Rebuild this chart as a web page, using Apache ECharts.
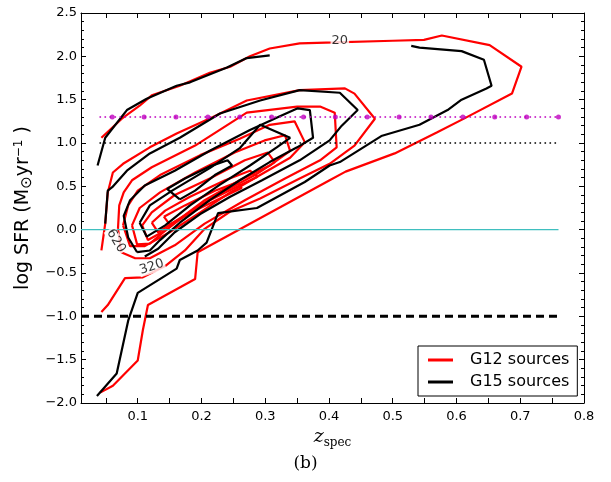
<!DOCTYPE html>
<html><head><meta charset="utf-8">
<script src="https://cdn.jsdelivr.net/npm/echarts@6/dist/echarts.min.js"></script>
<style>html,body{margin:0;padding:0;background:#fff}#c{width:611px;height:482px}</style>
</head><body><div id="c"></div>
<script>
// ---- tick values ----
const xTickLabels = [0.1, 0.2, 0.3, 0.4, 0.5, 0.6, 0.7, 0.8];
const xTickMarks = [0.05, 0.1, 0.15, 0.2, 0.25, 0.3, 0.35, 0.4, 0.45, 0.5, 0.55, 0.6, 0.65, 0.7, 0.75, 0.8];

// ---- reference lines ----
const magentaLine = [[0.04, 1.3], [0.76, 1.3]];
const magentaDotsX = [0.06, 0.11, 0.16, 0.21, 0.26, 0.31, 0.36, 0.41, 0.46, 0.51, 0.56, 0.61, 0.66, 0.71, 0.76];
const blackDotted = [[0.04, 1.0], [0.76, 1.0]];
const cyanLine = [[0.011, 0.0], [0.76, 0.0]];
const dashedLine = [[0.011, -1.0], [0.76, -1.0]];

// ---- G12 contours (red) ----
const r20 = [[0.043,1.06],[0.075,1.28],[0.103,1.43],[0.122,1.55],[0.166,1.66],[0.213,1.81],[0.245,1.88],[0.276,2.00],[0.307,2.09],[0.354,2.15],[0.409,2.16],[0.500,2.18],[0.549,2.19],[0.577,2.24],[0.652,2.13],[0.702,1.88],[0.687,1.57],[0.614,1.29],[0.569,1.12],[0.503,0.88],[0.426,0.67],[0.401,0.57],[0.194,-0.26],[0.190,-0.57],[0.116,-0.87],[0.108,-1.16],[0.100,-1.51],[0.061,-1.80],[0.041,-1.88]];
const r320 = [[0.043,-0.24],[0.049,0.07],[0.053,0.43],[0.061,0.66],[0.077,0.76],[0.119,0.95],[0.161,1.11],[0.218,1.30],[0.271,1.49],[0.354,1.61],[0.425,1.63],[0.440,1.57],[0.472,1.28],[0.440,0.97],[0.425,0.89],[0.401,0.76],[0.354,0.59],[0.292,0.36],[0.245,0.21],[0.205,0.01],[0.174,-0.24],[0.143,-0.42],[0.108,-0.55],[0.080,-0.56],[0.053,-0.87],[0.043,-0.95]];
const r620 = [[0.069,0.01],[0.071,0.28],[0.078,0.43],[0.091,0.57],[0.122,0.72],[0.190,0.97],[0.271,1.35],[0.350,1.42],[0.386,1.42],[0.409,1.35],[0.412,0.95],[0.386,0.80],[0.331,0.59],[0.268,0.34],[0.205,0.07],[0.158,-0.18],[0.119,-0.33],[0.096,-0.33],[0.074,-0.26],[0.069,0.01]];
const r920 = [[0.077,0.05],[0.085,0.28],[0.100,0.45],[0.135,0.63],[0.198,0.86],[0.260,1.05],[0.307,1.21],[0.346,1.25],[0.362,1.01],[0.339,0.83],[0.292,0.63],[0.245,0.43],[0.198,0.20],[0.150,-0.03],[0.111,-0.19],[0.088,-0.19],[0.077,0.05]];
const r1220 = [[0.091,0.05],[0.103,0.25],[0.135,0.43],[0.190,0.66],[0.252,0.89],[0.299,1.03],[0.331,1.09],[0.339,0.91],[0.307,0.74],[0.260,0.57],[0.205,0.34],[0.158,0.08],[0.119,-0.16],[0.099,-0.17],[0.091,0.05]];
const r1520 = [[0.107,0.05],[0.122,0.20],[0.158,0.40],[0.213,0.59],[0.268,0.80],[0.304,0.89],[0.315,0.78],[0.284,0.63],[0.237,0.45],[0.190,0.25],[0.143,-0.01],[0.116,-0.12],[0.107,0.05]];
const r1820 = [[0.122,0.08],[0.143,0.22],[0.182,0.38],[0.237,0.57],[0.276,0.68],[0.288,0.61],[0.257,0.50],[0.213,0.34],[0.166,0.13],[0.132,-0.03],[0.122,0.08]];
const r2120 = [[0.141,0.15],[0.174,0.28],[0.221,0.45],[0.257,0.55],[0.263,0.48],[0.229,0.36],[0.190,0.22],[0.150,0.06],[0.141,0.15]];

// ---- G15 contours (black) ----
const b20a = [[0.037,0.74],[0.049,1.06],[0.083,1.38],[0.114,1.51],[0.161,1.66],[0.182,1.70],[0.240,1.87],[0.271,1.98],[0.307,2.01]];
const b20b = [[0.529,2.12],[0.542,2.10],[0.608,2.06],[0.643,1.96],[0.655,1.66],[0.647,1.63],[0.608,1.50],[0.586,1.38],[0.542,1.21],[0.482,1.08],[0.417,0.78],[0.401,0.74],[0.362,0.55],[0.287,0.25],[0.226,0.19],[0.208,-0.15],[0.194,-0.24],[0.166,-0.35],[0.161,-0.45],[0.100,-0.73],[0.085,-1.05],[0.067,-1.66],[0.036,-1.92]];
const b2 = [[0.049,0.07],[0.053,0.45],[0.060,0.49],[0.083,0.68],[0.119,0.88],[0.166,1.06],[0.229,1.34],[0.292,1.49],[0.354,1.61],[0.417,1.58],[0.445,1.38],[0.420,1.20],[0.401,1.03],[0.354,0.80],[0.295,0.57],[0.245,0.38],[0.198,0.18],[0.158,-0.03],[0.132,-0.22],[0.111,-0.31]];
const b3 = [[0.099,-0.26],[0.085,-0.09],[0.078,0.16],[0.088,0.34],[0.111,0.51],[0.158,0.68],[0.213,0.91],[0.276,1.15],[0.323,1.31],[0.351,1.40],[0.370,1.38],[0.375,1.06],[0.350,0.95],[0.307,0.78],[0.260,0.57],[0.213,0.34],[0.166,0.08],[0.135,-0.12],[0.119,-0.24],[0.099,-0.26]];
const b4 = [[0.103,0.08],[0.119,0.28],[0.154,0.45],[0.213,0.71],[0.260,0.94],[0.292,1.21],[0.339,1.06],[0.318,0.95],[0.276,0.74],[0.229,0.52],[0.182,0.28],[0.143,0.05],[0.114,-0.08],[0.103,0.08]];
const b5 = [[0.166,0.35],[0.146,0.47],[0.174,0.59],[0.213,0.73],[0.241,0.80],[0.248,0.74],[0.221,0.63],[0.190,0.45],[0.166,0.35]];

// ---- contour labels ----
const labelTexts = ['20', '620', '320'];
const labelX = [0.417, 0.066, 0.122];
const labelY = [2.18, -0.13, -0.43];
const labelAngles = [0, -59, 18];

const g12 = [r20, r320, r620, r920, r1220, r1520, r1820, r2120];
const g15 = [b20a, b20b, b2, b3, b4, b5];

const FONT = 'DejaVu Sans';
const series = [];
g12.forEach(d => series.push({name: 'G12 sources', type: 'line', data: d, showSymbol: false, symbol: 'none',
  lineStyle: {color: '#ff0000', width: 2.2}, itemStyle: {color: '#ff0000'}, z: 2, animation: false, silent: true}));
g15.forEach(d => series.push({name: 'G15 sources', type: 'line', data: d, showSymbol: false, symbol: 'none',
  lineStyle: {color: '#000000', width: 2.2}, itemStyle: {color: '#000000'}, z: 3, animation: false, silent: true}));
series.push({name: 'cyan', type: 'line', data: cyanLine, symbol: 'none', lineStyle: {color: '#3fbfbf', width: 1.2}, z: 4, animation: false, silent: true});
series.push({name: 'dotted', type: 'line', data: blackDotted, symbol: 'none', lineStyle: {color: '#000', width: 1.6, type: [1.6, 3.4]}, z: 4, animation: false, silent: true});
series.push({name: 'dashed', type: 'line', data: dashedLine, symbol: 'none', lineStyle: {color: '#000', width: 3, type: [8, 5]}, z: 4, animation: false, silent: true});
series.push({name: 'magenta', type: 'line', data: magentaLine, symbol: 'none', lineStyle: {color: '#bf00bf', width: 1.6, type: [1.6, 3.4]}, z: 4, animation: false, silent: true});
series.push({name: 'magentaDots', type: 'scatter', data: magentaDotsX.map(x => [x, 1.3]), symbol: 'circle', symbolSize: 5,
  itemStyle: {color: '#bf00bf'}, z: 5, animation: false, silent: true});
series.push({name: 'labels', type: 'scatter', symbolSize: 1, itemStyle: {color: 'rgba(0,0,0,0)'}, z: 6, animation: false, silent: true,
  data: labelTexts.map((t, i) => ({value: [labelX[i], labelY[i]], label: {show: true, position: 'inside', formatter: t, rotate: labelAngles[i],
    fontFamily: FONT, fontSize: 13, color: '#000', backgroundColor: '#fff', padding: [0, 1]}}))});

const fmt = v => (Math.round(v * 10) / 10).toFixed(1).replace('-', '\u2212');
const tickStyle = {show: true, inside: true, length: 5, lineStyle: {color: '#000', width: 1}};
const option = {
  animation: false,
  backgroundColor: '#fff',
  title: {text: '(b)', left: 'center', top: 450, textStyle: {fontFamily: 'DejaVu Serif', fontSize: 17, fontWeight: 'normal', color: '#000'}},
  grid: {left: 81, right: 27, top: 13, bottom: 79, show: false, containLabel: false, outerBoundsMode: 'none'},
  legend: {
    orient: 'vertical', left: 418, top: 346, padding: [6, 8, 6, 10], itemGap: 6, itemWidth: 25, itemHeight: 3, icon: 'rect',
    borderColor: '#000', borderWidth: 1, borderRadius: 0, selectedMode: false, backgroundColor: '#fff',
    textStyle: {fontFamily: FONT, fontSize: 16, color: '#000', padding: [0, 0, 0, 12]},
    data: ['G12 sources', 'G15 sources']
  },
  xAxis: [{
    type: 'value', min: 0.011, max: 0.8, position: 'bottom',
    name: '{z|z}{s|spec}', nameLocation: 'middle', nameGap: 20,
    nameTextStyle: {rich: {z: {fontFamily: 'DejaVu Serif', fontStyle: 'italic', fontSize: 19, color: '#000'},
      s: {fontFamily: 'DejaVu Serif', fontSize: 12, color: '#000', padding: [10, 0, 0, 0]}}},
    axisLine: {show: true, onZero: false, lineStyle: {color: '#000', width: 1}},
    axisTick: Object.assign({customValues: xTickMarks}, tickStyle),
    axisLabel: {customValues: xTickLabels, formatter: v => v.toFixed(1), fontFamily: FONT, fontSize: 13, color: '#000', margin: 7},
    splitLine: {show: false}
  }, {
    type: 'value', min: 0.011, max: 0.8, position: 'top',
    axisLine: {show: true, onZero: false, lineStyle: {color: '#000', width: 1}},
    axisTick: Object.assign({customValues: xTickMarks}, tickStyle),
    axisLabel: {show: false}, splitLine: {show: false}
  }],
  yAxis: [{
    type: 'value', min: -2, max: 2.5, interval: 0.5, position: 'left',
    name: '{t|log SFR (M}{o|\u2299}{t|yr}{p|\u22121}{t| )}', nameLocation: 'middle', nameGap: 39, nameRotate: 90,
    nameTextStyle: {rich: {
      t: {fontFamily: FONT, fontSize: 19, color: '#000', lineHeight: 22},
      o: {fontFamily: FONT, fontSize: 15, color: '#000', verticalAlign: 'bottom', lineHeight: 18},
      p: {fontFamily: FONT, fontSize: 12, color: '#000', verticalAlign: 'top', lineHeight: 14}}},
    axisLine: {show: true, onZero: false, lineStyle: {color: '#000', width: 1}},
    axisTick: tickStyle,
    minorTick: {show: true, splitNumber: 5, length: 3, lineStyle: {color: '#000', width: 1}},
    axisLabel: {formatter: fmt, fontFamily: FONT, fontSize: 13, color: '#000', margin: 4},
    splitLine: {show: false}, minorSplitLine: {show: false}
  }, {
    type: 'value', min: -2, max: 2.5, interval: 0.5, position: 'right',
    axisLine: {show: true, onZero: false, lineStyle: {color: '#000', width: 1}},
    axisTick: tickStyle,
    minorTick: {show: true, splitNumber: 5, length: 3, lineStyle: {color: '#000', width: 1}},
    axisLabel: {show: false}, splitLine: {show: false}
  }],
  series: series
};
const chart = echarts.init(document.getElementById('c'), null, {renderer: 'canvas'});
chart.setOption(option);
</script></body></html>
